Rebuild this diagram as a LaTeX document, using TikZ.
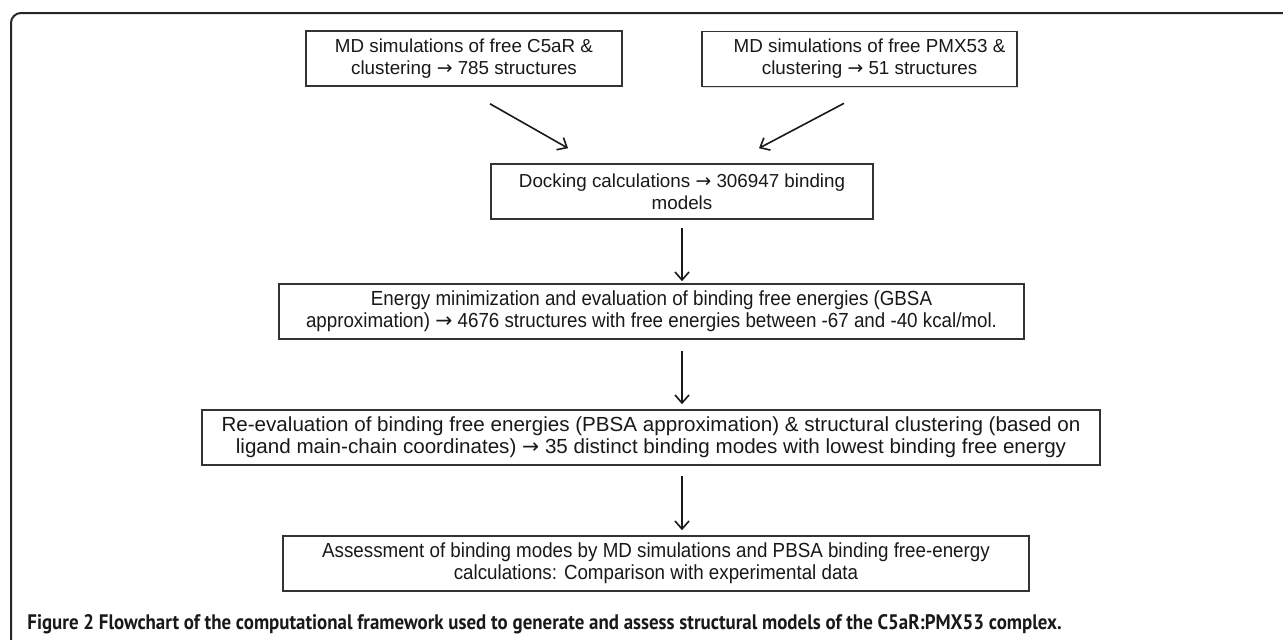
\documentclass[tikz,border=0pt]{standalone}
\usepackage{fontspec}
\setmainfont{Liberation Sans}
\newfontfamily\narrowsf[FakeStretch=0.92]{Liberation Sans}
\newfontfamily\widesf[FakeStretch=1.01]{Liberation Sans}
\newfontfamily\arrowsf{DejaVu Sans}
\newfontfamily\capsf[FakeStretch=0.9]{PT Sans}
\newcommand{\goesto}{{\arrowsf →}}
\usetikzlibrary{arrows.meta,positioning,calc,shadows}

\begin{document}
\begin{tikzpicture}[%
        x=0.5pt, y=-0.5pt,
        every node/.style={rectangle, inner sep=0pt, align=center, text=black!90},
        stepbox/.style={draw=black!80, line width=0.8pt, fill=white, minimum height=27.5pt,
          drop shadow={shadow xshift=0.7pt, shadow yshift=-0.7pt, opacity=0.25}},
        plain/.style={font=\fontsize{9.4}{11}\selectfont},
        narrow/.style={font=\narrowsf\fontsize{10.2}{10.85}\selectfont},
        wide/.style={font=\widesf\fontsize{10.2}{10.85}\selectfont},
        flow/.style={-{Straight Barb[length=4pt,width=7pt]}, line width=0.8pt, black!90}
      ]
      \useasboundingbox (0,0) rectangle (1283,639);
      % outer frame, top and left only
      \draw [line width=1pt, black!85, rounded corners=5pt] (1290,13) -- (11,13) -- (11,645);

      \node [stepbox, plain] (md1) [minimum width=158pt] at (464,58.5) {MD simulations of free C5aR \&\\clustering \goesto{} 785 structures};
      \node [stepbox, plain] (md2) [minimum width=157.5pt] at (859.5,59) {\hspace*{10pt}MD simulations of free PMX53 \&\\\hspace*{10pt}clustering \goesto{} 51 structures};
      \node [stepbox, plain] (dock) [minimum width=191pt] at (682,191.5) {Docking calculations \goesto{} 306947 binding\\models};
      \node [stepbox, narrow] (energy) [minimum width=372.5pt] at (651.5,311.5) {Energy minimization and evaluation of binding free energies (GBSA\\approximation) \goesto{} 4676 structures with free energies between -67 and -40 kcal/mol.};
      \node [stepbox, wide] (reeval) [minimum width=449pt] at (651,437.5) {Re-evaluation of binding free energies (PBSA approximation) \& structural clustering (based on\\ligand main-chain coordinates) \goesto{} 35 distinct binding modes with lowest binding free energy};
      \node [stepbox, narrow] (assess) [minimum width=373pt] at (656,563.5) {Assessment of binding modes by MD simulations and PBSA binding free-energy\\calculations: Comparison with experimental data};

      \node (cap) [anchor=base west, font=\capsf\bfseries\fontsize{10.5}{12}\selectfont] at (27,629) {Figure 2 Flowchart of the computational framework used to generate and assess structural models of the C5aR:PMX53 complex.};

      % loose ends of the two slanted arrows
      \coordinate (md1out) at ($(md1.south)+(26,17)$);
      \coordinate (md2out) at ($(md2.south)+(-15.5,16)$);
      \coordinate (dockin1) at ($(dock.north)+(-114,-15)$);
      \coordinate (dockin2) at ($(dock.north)+(77,-15)$);

      \draw [flow] (md1out) -- (dockin1);
      \draw [flow] (md2out) -- (dockin2);
      \draw [flow, shorten <=4pt, shorten >=1pt] (dock.south) -- (dock.south |- energy.north);
      \draw [flow, shorten <=5.5pt, shorten >=2.5pt] (energy.south -| dock) -- (reeval.north -| dock);
      \draw [flow, shorten <=5pt, shorten >=2.5pt] (reeval.south -| dock) -- (assess.north -| dock);
    \end{tikzpicture}
\end{document}
